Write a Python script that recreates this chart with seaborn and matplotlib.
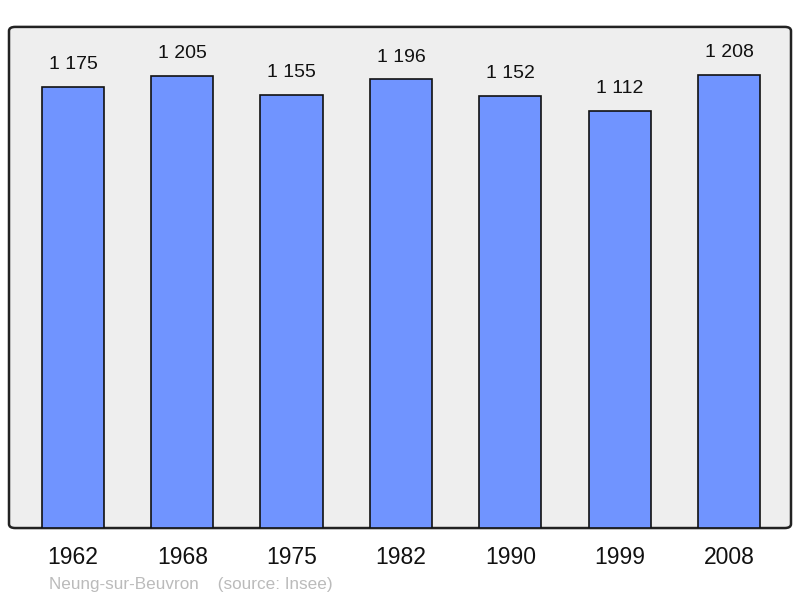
import matplotlib
matplotlib.use("Agg")
import matplotlib.pyplot as plt
from matplotlib.patches import FancyBboxPatch
import seaborn as sns
import pandas as pd

years = ["1962", "1968", "1975", "1982", "1990", "1999", "2008"]
population = [1175, 1205, 1155, 1196, 1152, 1112, 1208]
commune = "Neung-sur-Beuvron"
source = "(source: Insee)"

sns.set_style("white")
plt.rcParams["font.family"] = ["Liberation Sans", "DejaVu Sans"]

df = pd.DataFrame({"year": years, "pop": population})

fig = plt.figure(figsize=(8, 5.98), dpi=100)
ax = fig.add_axes([0.01125, 0.117, 0.9775, 0.838])
ax.set_facecolor("none")

# rounded grey frame
frame = FancyBboxPatch((0, 0), 1, 1, boxstyle="round,pad=0,rounding_size=0.008",
                       transform=ax.transAxes, facecolor="#eeeeee",
                       edgecolor="#222222", linewidth=1.8, zorder=0, clip_on=False)
ax.add_patch(frame)

sns.barplot(data=df, x="year", y="pop", color="#7094ff", saturation=1,
            width=0.57, edgecolor="#111111", linewidth=1.2, ax=ax, zorder=2)

labels = [f"{v:,}".replace(",", " ") for v in population]
ax.bar_label(ax.containers[0], labels=labels, padding=10, fontsize=14, color="#111111")

ax.set_xlim(-0.585, 6.567)
ax.set_ylim(0, 1336)
ax.set_yticks([])
ax.set_xlabel("")
ax.set_ylabel("")
for s in ax.spines.values():
    s.set_visible(False)
ax.tick_params(axis="x", length=0, labelsize=16.5, pad=13, colors="#111111")

fig.text(49 / 800, 1 - 585 / 598, commune + "    " + source, fontsize=12.3,
         color="#bbbbbb", va="center", ha="left")

fig.savefig("out.png", dpi=100)
